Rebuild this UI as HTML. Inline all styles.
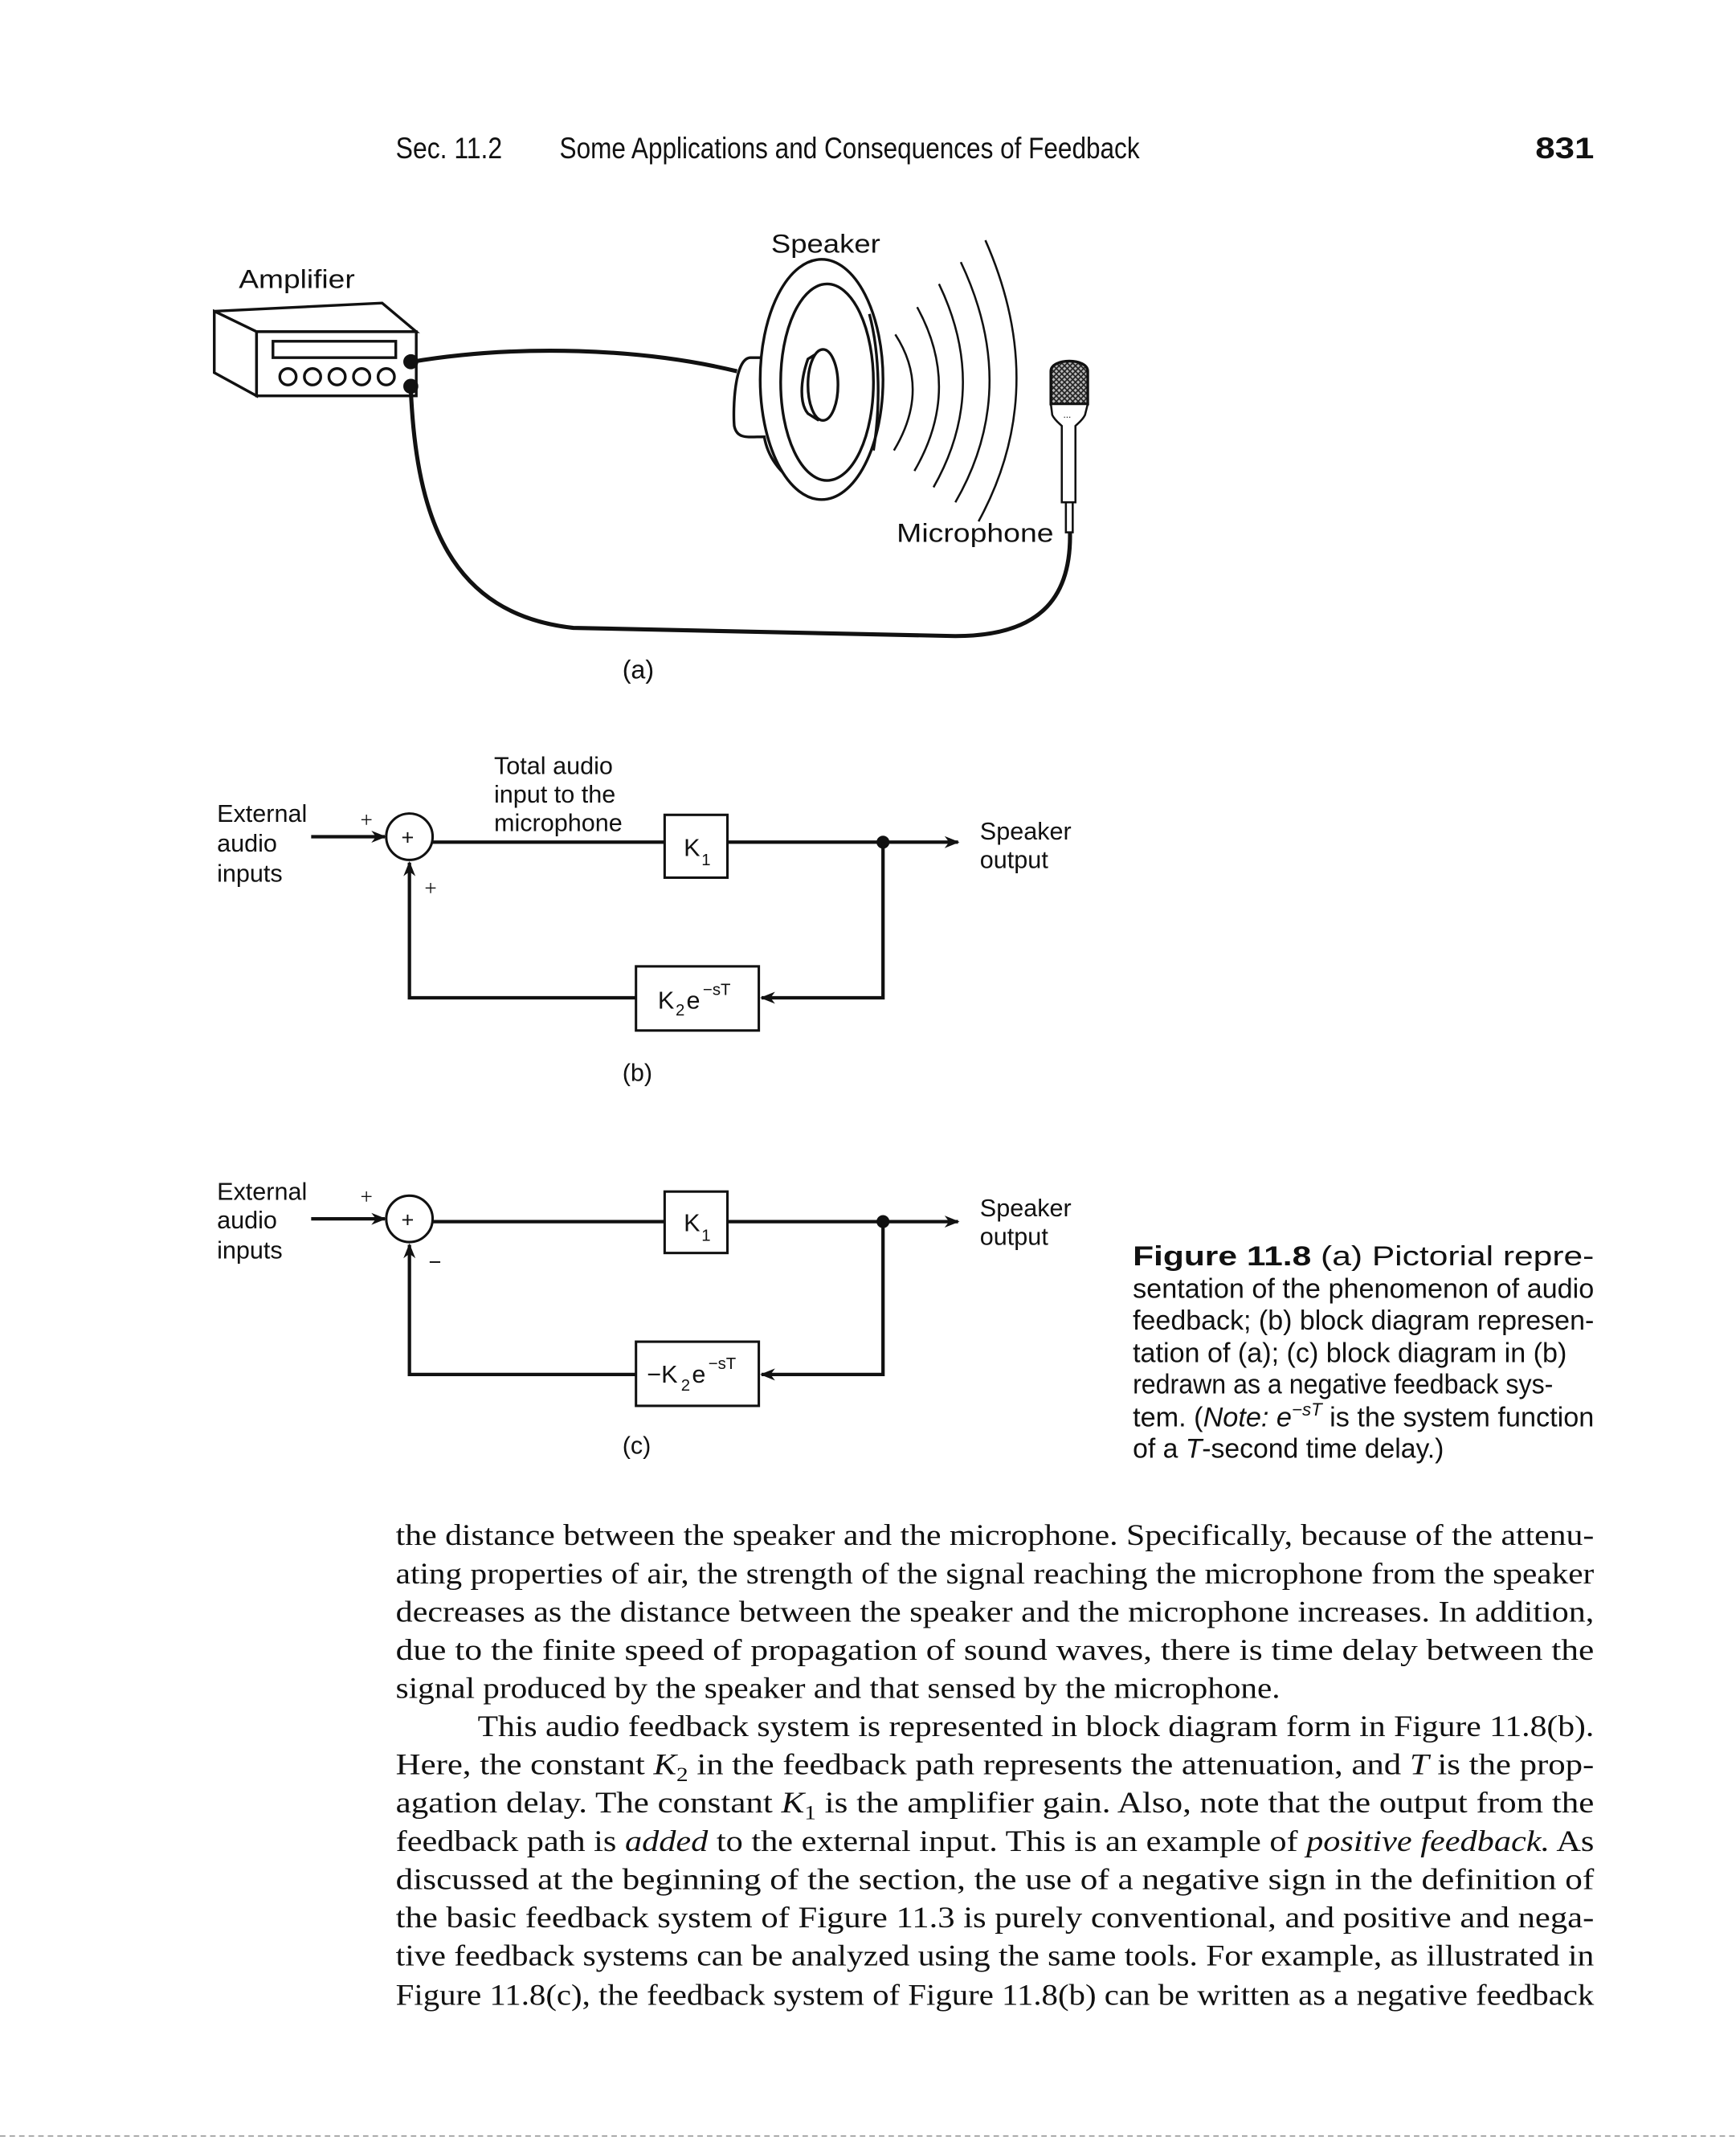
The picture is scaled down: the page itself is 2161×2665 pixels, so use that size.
<!DOCTYPE html>
<html><head><meta charset="utf-8"><style>
html,body{margin:0;padding:0;background:#fff;}
#p{width:2161px;height:2665px;overflow:hidden;}
svg text{font-family:"Liberation Sans",sans-serif;fill:#111;}
.s{font-family:"Liberation Serif",serif !important;}
</style></head><body><div id="p">
<svg width="2161" height="2665" viewBox="0 0 1272 1568.6" xmlns="http://www.w3.org/2000/svg">
<defs>
<marker id="ar" viewBox="0 0 10 10" refX="9" refY="5" markerWidth="20" markerHeight="11" markerUnits="userSpaceOnUse" orient="auto"><path d="M0,1 L10,5 L0,9 L3,5 Z" fill="#111"/></marker>
<pattern id="hatch" width="4" height="4" patternUnits="userSpaceOnUse"><rect width="4" height="4" fill="#bbb"/><path d="M0,0 L4,4 M4,0 L0,4" stroke="#222" stroke-width="1"/></pattern>
</defs>
<!-- header -->
<text x="290" y="116" font-size="22" textLength="78" lengthAdjust="spacingAndGlyphs">Sec. 11.2</text>
<text x="410" y="116" font-size="22" textLength="425" lengthAdjust="spacingAndGlyphs">Some Applications and Consequences of Feedback</text>
<text x="1125" y="116" font-size="22" font-weight="bold" textLength="43" lengthAdjust="spacingAndGlyphs">831</text>

<!-- (a) -->
<g stroke="#111" fill="none" stroke-width="2">
<text x="175" y="211" font-size="19" stroke="none" textLength="85" lengthAdjust="spacingAndGlyphs">Amplifier</text>
<polygon points="157,228 280,222 305,243 188,243" fill="#fff"/>
<polygon points="157,228 188,243 188,290 157,273" fill="#fff"/>
<rect x="188" y="243" width="117" height="47" fill="#fff"/>
<rect x="200" y="250" width="90" height="12"/>
<circle cx="211" cy="276" r="6"/><circle cx="229" cy="276" r="6"/><circle cx="247" cy="276" r="6"/><circle cx="265" cy="276" r="6"/><circle cx="283" cy="276" r="6"/>
<circle cx="301" cy="265" r="4.5" fill="#111"/><circle cx="301" cy="283" r="4.5" fill="#111"/>
<path d="M302,265 C380,252 470,255 540,272" stroke-width="3"/>
<path d="M301,285 C305,380 330,450 420,460 L700,466 C760,466 785,440 784,390" stroke-width="3"/>
<!-- speaker -->
<text x="565" y="185" font-size="19" stroke="none" textLength="80" lengthAdjust="spacingAndGlyphs">Speaker</text>
<path d="M585,228 C568,232 563,250 562,262 L550,262 C538,262 537,300 538,312 C540,322 548,320 560,320 C562,332 570,348 588,356" fill="#fff"/>
<ellipse cx="602" cy="278" rx="45" ry="88" fill="#fff"/>
<ellipse cx="606" cy="280" rx="34" ry="72"/>
<path d="M637,230 C645,260 645,300 640,330"/>
<path d="M600,258 L592,263 C586,280 586,296 592,303 L600,308"/>
<ellipse cx="603" cy="282" rx="11" ry="26" fill="#fff"/>
<g stroke-width="1.5">
<path d="M656,245 Q682,285 655,330"/>
<path d="M672,225 Q705,285 670,345"/>
<path d="M688,208 Q725,285 684,357"/>
<path d="M704,192 Q748,285 700,368"/>
<path d="M722,176 Q770,285 717,382"/>
</g>
<!-- mic -->
<path d="M770,272 C770,262 797,262 797,272 L797,296 L770,296 Z" fill="url(#hatch)"/>
<path d="M770,296 L797,296 L795,304 C793,308 790,310 788,312 L788,368 L778,368 L778,312 C776,310 773,308 771,304 Z" fill="#fff" stroke-width="1.5"/>
<text x="779" y="306" font-size="7" stroke="none">...</text>
<rect x="781" y="368" width="5" height="22" fill="#fff" stroke-width="1.5"/>
<text x="657" y="397" font-size="19" stroke="none" textLength="115" lengthAdjust="spacingAndGlyphs">Microphone</text>
<text x="456" y="497" font-size="19" stroke="none">(a)</text>
</g>

<!-- (b) -->
<g stroke="#111" fill="none" stroke-width="2.5">
<g stroke="none" font-size="18">
<text x="362" y="567">Total audio</text><text x="362" y="588">input to the</text><text x="362" y="609">microphone</text>
<text x="159" y="602">External</text><text x="159" y="624">audio</text><text x="159" y="646">inputs</text>
<text x="718" y="615">Speaker</text><text x="718" y="636">output</text>
<text x="264" y="606" font-size="16" class="s">+</text><text x="311" y="656" font-size="16" class="s">+</text>
<text x="294" y="619" font-size="16">+</text>
<text x="501" y="627" font-size="18">K</text><text x="514" y="634" font-size="12">1</text>
<text x="482" y="739" font-size="18">K</text><text x="495" y="744" font-size="12">2</text><text x="503" y="739" font-size="18">e</text><text x="515" y="729" font-size="12">−sT</text>
<text x="456" y="792" font-size="18">(b)</text>
</g>
<line x1="228" y1="613" x2="282" y2="613" marker-end="url(#ar)"/>
<circle cx="300" cy="613" r="17" stroke-width="1.8"/>
<line x1="317" y1="617" x2="487" y2="617"/>
<rect x="487" y="597" width="46" height="46" stroke-width="1.8"/>
<line x1="533" y1="617" x2="702" y2="617" marker-end="url(#ar)"/>
<circle cx="647" cy="617" r="3.5" fill="#111"/>
<polyline points="647,617 647,731 558,731" marker-end="url(#ar)"/>
<rect x="466" y="708" width="90" height="47" stroke-width="1.8"/>
<polyline points="466,731 300,731 300,632" marker-end="url(#ar)"/>
</g>

<!-- (c) -->
<g stroke="#111" fill="none" stroke-width="2.5">
<g stroke="none" font-size="18">
<text x="159" y="879">External</text><text x="159" y="900">audio</text><text x="159" y="922">inputs</text>
<text x="718" y="891">Speaker</text><text x="718" y="912">output</text>
<text x="264" y="882" font-size="16" class="s">+</text><text x="314" y="930" font-size="16">−</text>
<text x="294" y="899" font-size="16">+</text>
<text x="501" y="902" font-size="18">K</text><text x="514" y="909" font-size="12">1</text>
<text x="474" y="1013" font-size="18">−K</text><text x="499" y="1019" font-size="12">2</text><text x="507" y="1013" font-size="18">e</text><text x="519" y="1003" font-size="12">−sT</text>
<text x="456" y="1065" font-size="18">(c)</text>
</g>
<line x1="228" y1="893" x2="282" y2="893" marker-end="url(#ar)"/>
<circle cx="300" cy="893" r="17" stroke-width="1.8"/>
<line x1="317" y1="895" x2="487" y2="895"/>
<rect x="487" y="873" width="46" height="45" stroke-width="1.8"/>
<line x1="533" y1="895" x2="702" y2="895" marker-end="url(#ar)"/>
<circle cx="647" cy="895" r="3.5" fill="#111"/>
<polyline points="647,895 647,1007 558,1007" marker-end="url(#ar)"/>
<rect x="466" y="983" width="90" height="47" stroke-width="1.8"/>
<polyline points="466,1007 300,1007 300,912" marker-end="url(#ar)"/>
</g>

<!-- caption -->
<g font-size="20">
<text x="830" y="927" textLength="338" lengthAdjust="spacingAndGlyphs"><tspan font-weight="bold">Figure 11.8</tspan>   (a) Pictorial repre-</text>
<text x="830" y="951" textLength="338" lengthAdjust="spacingAndGlyphs">sentation of the phenomenon of audio</text>
<text x="830" y="974" textLength="338" lengthAdjust="spacingAndGlyphs">feedback; (b) block diagram represen-</text>
<text x="830" y="998" textLength="318" lengthAdjust="spacingAndGlyphs">tation of (a); (c) block diagram in (b)</text>
<text x="830" y="1021" textLength="308" lengthAdjust="spacingAndGlyphs">redrawn as a negative feedback sys-</text>
<text x="830" y="1045" textLength="338" lengthAdjust="spacingAndGlyphs">tem. (<tspan font-style="italic">Note: e</tspan><tspan font-size="13" dy="-8" font-style="italic">−sT</tspan><tspan dy="8"> is the system function</tspan></text>
<text x="830" y="1068" textLength="228" lengthAdjust="spacingAndGlyphs">of a <tspan font-style="italic">T</tspan>-second time delay.)</text>
</g>

<!-- body -->
<g font-size="22" class="s">
<text class="s" x="290" y="1132" textLength="878" lengthAdjust="spacingAndGlyphs">the distance between the speaker and the microphone. Specifically, because of the attenu-</text>
<text class="s" x="290" y="1160" textLength="878" lengthAdjust="spacingAndGlyphs">ating properties of air, the strength of the signal reaching the microphone from the speaker</text>
<text class="s" x="290" y="1188" textLength="878" lengthAdjust="spacingAndGlyphs">decreases as the distance between the speaker and the microphone increases. In addition,</text>
<text class="s" x="290" y="1216" textLength="878" lengthAdjust="spacingAndGlyphs">due to the finite speed of propagation of sound waves, there is time delay between the</text>
<text class="s" x="290" y="1244" textLength="648" lengthAdjust="spacingAndGlyphs">signal produced by the speaker and that sensed by the microphone.</text>
<text class="s" x="350" y="1272" textLength="818" lengthAdjust="spacingAndGlyphs">This audio feedback system is represented in block diagram form in Figure 11.8(b).</text>
<text class="s" x="290" y="1300" textLength="878" lengthAdjust="spacingAndGlyphs">Here, the constant <tspan font-style="italic">K</tspan><tspan font-size="15" dy="5">2</tspan><tspan dy="-5"> in the feedback path represents the attenuation, and </tspan><tspan font-style="italic">T</tspan> is the prop-</text>
<text class="s" x="290" y="1328" textLength="878" lengthAdjust="spacingAndGlyphs">agation delay. The constant <tspan font-style="italic">K</tspan><tspan font-size="15" dy="5">1</tspan><tspan dy="-5"> is the amplifier gain. Also, note that the output from the</tspan></text>
<text class="s" x="290" y="1356" textLength="878" lengthAdjust="spacingAndGlyphs">feedback path is <tspan font-style="italic">added</tspan> to the external input. This is an example of <tspan font-style="italic">positive feedback.</tspan> As</text>
<text class="s" x="290" y="1384" textLength="878" lengthAdjust="spacingAndGlyphs">discussed at the beginning of the section, the use of a negative sign in the definition of</text>
<text class="s" x="290" y="1412" textLength="878" lengthAdjust="spacingAndGlyphs">the basic feedback system of Figure 11.3 is purely conventional, and positive and nega-</text>
<text class="s" x="290" y="1440" textLength="878" lengthAdjust="spacingAndGlyphs">tive feedback systems can be analyzed using the same tools. For example, as illustrated in</text>
<text class="s" x="290" y="1469" textLength="878" lengthAdjust="spacingAndGlyphs">Figure 11.8(c), the feedback system of Figure 11.8(b) can be written as a negative feedback</text>
</g>
<line x1="0" y1="1565" x2="1272" y2="1565" stroke="#999" stroke-width="1" stroke-dasharray="4,3"/>
</svg>
</div></body></html>
